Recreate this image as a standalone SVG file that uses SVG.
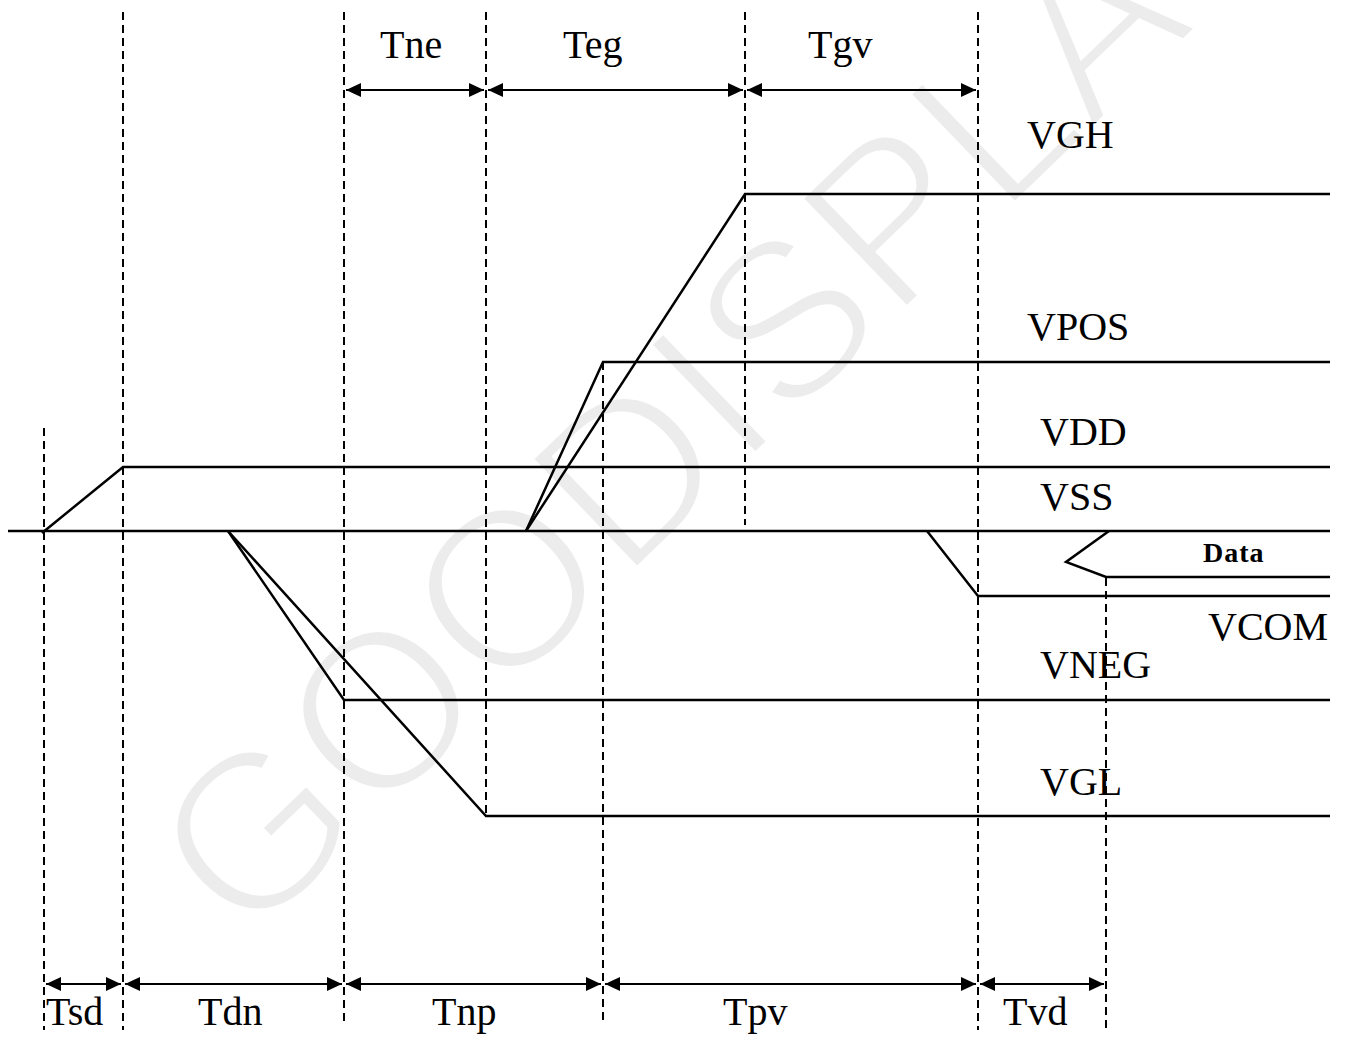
<svg xmlns="http://www.w3.org/2000/svg" width="1346" height="1039" viewBox="0 0 1346 1039">
<style>
.wm{font-family:"Liberation Sans","DejaVu Sans",sans-serif;font-size:225px;fill:#ececec;stroke:#fff;stroke-width:7}
.sig{fill:none;stroke:#000;stroke-width:2.5}
.dash{fill:none;stroke:#000;stroke-width:2;stroke-dasharray:8,5}
.dim{fill:none;stroke:#000;stroke-width:2}
.lbl{font-family:"Liberation Serif","Times New Roman",serif;font-size:40px;fill:#000}
.bold{font-family:"Liberation Serif","Times New Roman",serif;font-size:28px;font-weight:bold;fill:#000}
</style>
<defs>
<marker id="ah" markerUnits="userSpaceOnUse" markerWidth="16" markerHeight="16" refX="15" refY="7" orient="auto-start-reverse">
<path d="M0,0 L15,7 L0,14 z" fill="#000"/>
</marker>
</defs>
<rect width="1346" height="1039" fill="#fff"/>
<g id="watermark">
<text class="wm" transform="translate(246,948) rotate(-44)" x="0" y="0">GOODISPLAY</text>
</g>
<g id="gridlines">
<line class="dash" x1="44" y1="428" x2="44" y2="1030"/>
<line class="dash" x1="123" y1="12" x2="123" y2="1030"/>
<line class="dash" x1="344" y1="12" x2="344" y2="1025"/>
<line class="dash" x1="486" y1="12" x2="486" y2="815"/>
<line class="dash" x1="603" y1="362" x2="603" y2="1025"/>
<line class="dash" x1="745" y1="12" x2="745" y2="525"/>
<line class="dash" x1="978" y1="12" x2="978" y2="1030"/>
<line class="dash" x1="1106" y1="578" x2="1106" y2="1030"/>
</g>
<g id="signals">
<g id="VSS"><line class="sig" x1="8" y1="531" x2="1330" y2="531"/><text class="lbl" x="1040" y="510">VSS</text></g>
<g id="VDD"><polyline class="sig" points="42,533 123,467 1330,467"/><text class="lbl" x="1040" y="445">VDD</text></g>
<g id="VGH"><polyline class="sig" points="526,531 745,194 1330,194"/><text class="lbl" x="1027" y="148">VGH</text></g>
<g id="VPOS"><polyline class="sig" points="526,531 603,362 1330,362"/><text class="lbl" x="1027" y="340">VPOS</text></g>
<g id="VNEG"><polyline class="sig" points="228,531 344,700 1330,700"/><text class="lbl" x="1040" y="678">VNEG</text></g>
<g id="VGL"><polyline class="sig" points="228,531 486,816 1330,816"/><text class="lbl" x="1040" y="795">VGL</text></g>
<g id="VCOM"><polyline class="sig" points="927,531 978,596 1330,596"/><text class="lbl" x="1208" y="640">VCOM</text></g>
<g id="Data"><polyline class="sig" points="1109,531 1066,562 1106,577 1330,577"/><text class="bold" x="1203" y="562" letter-spacing="1">Data</text></g>
</g>
<g id="connectors">
<line class="dim" x1="346" y1="90" x2="484" y2="90" marker-start="url(#ah)" marker-end="url(#ah)"/>
<line class="dim" x1="488" y1="90" x2="743" y2="90" marker-start="url(#ah)" marker-end="url(#ah)"/>
<line class="dim" x1="747" y1="90" x2="976" y2="90" marker-start="url(#ah)" marker-end="url(#ah)"/>
<line class="dim" x1="46" y1="984" x2="121" y2="984" marker-start="url(#ah)" marker-end="url(#ah)"/>
<line class="dim" x1="125" y1="984" x2="342" y2="984" marker-start="url(#ah)" marker-end="url(#ah)"/>
<line class="dim" x1="346" y1="984" x2="601" y2="984" marker-start="url(#ah)" marker-end="url(#ah)"/>
<line class="dim" x1="605" y1="984" x2="976" y2="984" marker-start="url(#ah)" marker-end="url(#ah)"/>
<line class="dim" x1="980" y1="984" x2="1104" y2="984" marker-start="url(#ah)" marker-end="url(#ah)"/>
</g>
<g id="labels">
<text class="lbl" x="380" y="58">Tne</text>
<text class="lbl" x="563" y="58">Teg</text>
<text class="lbl" x="808" y="58">Tgv</text>
<text class="lbl" x="46" y="1025">Tsd</text>
<text class="lbl" x="198" y="1025">Tdn</text>
<text class="lbl" x="432" y="1025">Tnp</text>
<text class="lbl" x="723" y="1025">Tpv</text>
<text class="lbl" x="1003" y="1025">Tvd</text>
</g>
</svg>
